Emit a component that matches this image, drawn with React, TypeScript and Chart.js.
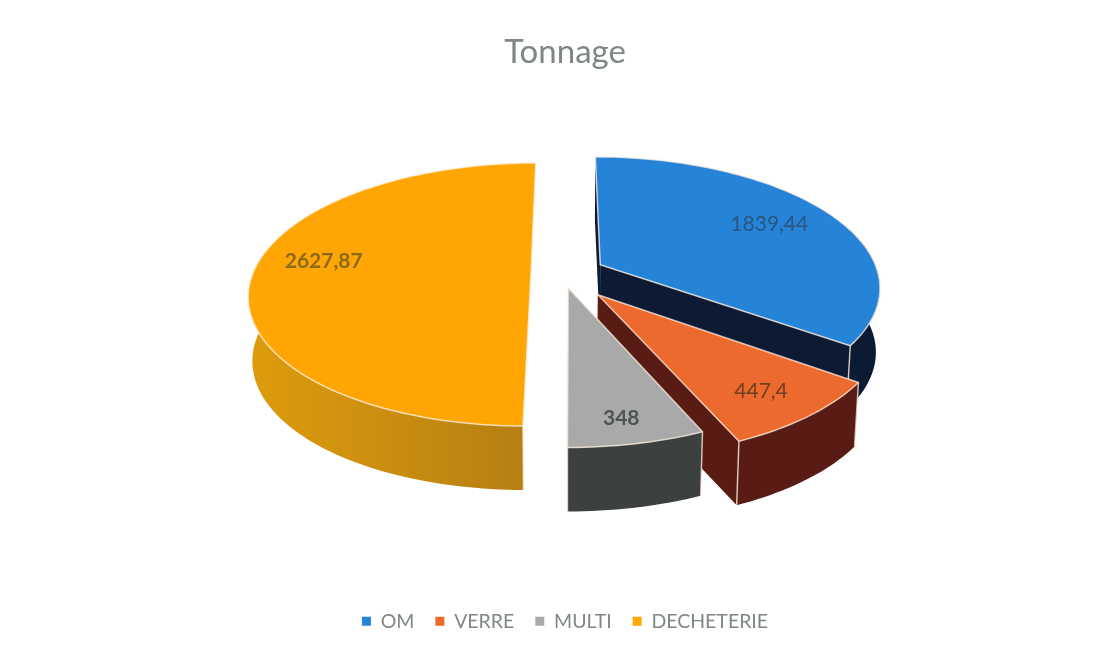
import React, { useEffect, useRef } from "react";
import { Chart, registerables } from "chart.js";

Chart.register(...registerables);

const TITLE = "Tonnage";
const CATEGORIES = ["OM", "VERRE", "MULTI", "DECHETERIE"];
const TONNAGE = [1839.44, 447.4, 348, 2627.87];
const LABELS = ["1839,44", "447,4", "348", "2627,87"];
const TOP_COLORS = ["#2583D8", "#EC6A2E", "#A9A9A9", "#FFA504"];
const SIDE_COLORS = ["#0D1A33", "#591C15", "#3C4140", "#C98D10"];
const LABEL_COLORS = ["#2A567F", "#6E3E22", "#4F5557", "#8A6A1C"];
const LABEL_BOLD = [false, false, true, true];
const EXPLODE_PX = [40, 56, 32, 34];
const EXPLODE_TURN = [0, 4, 6, 0];
const SHOW_CUT_FACES = [true, true, true, false];
const LABEL_RADIUS = [0.74, 0.81, 0.86, 0.765];
const LABEL_TURN = [-0.5, 1, 1, 7];
const DRAW_ORDER = [0, 3, 1, 2];

// perspective view of the unit disc
const VIEW = { cx: 565, cy: 273, rx: 278, ry: 128, k: 0.1635, depth: 64, shrink: 0.987 };
const RAD = Math.PI / 180;

type P = { x: number; y: number };
const project = (X: number, Y: number): P => {
  const s = 1 / (1 - VIEW.k * Y);
  return { x: VIEW.cx + X * VIEW.rx * s, y: VIEW.cy + Y * VIEW.ry * s };
};
const lower = (p: P): P => ({
  x: VIEW.cx + (p.x - VIEW.cx) * VIEW.shrink,
  y: p.y + VIEW.depth,
});

const poly = (ctx: CanvasRenderingContext2D, pts: P[]) => {
  ctx.beginPath();
  pts.forEach((p, i) => (i ? ctx.lineTo(p.x, p.y) : ctx.moveTo(p.x, p.y)));
  ctx.closePath();
};

const shift = (arc: any, i: number) => {
  const { startAngle, endAngle } = arc.getProps(["startAngle", "endAngle"], true);
  const mid = (startAngle + endAngle) / 2;
  const o = arc.options.offset / VIEW.rx;
  const dir = mid + EXPLODE_TURN[i] * RAD;
  return { startAngle, endAngle, mid, ox: Math.cos(dir) * o, oy: Math.sin(dir) * o };
};

const pie3d = {
  id: "pie3d",
  beforeDatasetsDraw(chart: any) {
    const ctx: CanvasRenderingContext2D = chart.ctx;
    const arcs = chart.getDatasetMeta(0).data;
    ctx.save();
    ctx.lineJoin = "round";
    DRAW_ORDER.forEach((i) => {
      const { startAngle, endAngle, ox, oy } = shift(arcs[i], i);
      const steps = Math.max(8, Math.ceil((endAngle - startAngle) * 40));
      const rim: P[] = [];
      const frontRim: P[] = [];
      for (let n = 0; n <= steps; n++) {
        const a = startAngle + ((endAngle - startAngle) * n) / steps;
        const p = project(ox + Math.cos(a), oy + Math.sin(a));
        rim.push(p);
        if (Math.sin(a) > -0.2) frontRim.push(p);
      }
      const apex = project(ox, oy);
      const side = SIDE_COLORS[i];
      const xs = rim.map((p) => p.x);
      const grad = ctx.createLinearGradient(Math.min(...xs), 0, Math.max(...xs), 0);
      if (i === 3) {
        grad.addColorStop(0, "#DE9C0C");
        grad.addColorStop(1, "#B57E14");
      } else {
        grad.addColorStop(0, side);
        grad.addColorStop(1, side);
      }
      // radial cut faces
      if (SHOW_CUT_FACES[i]) {
        ctx.fillStyle = side;
        [rim[0], rim[rim.length - 1]].forEach((e) => {
          poly(ctx, [apex, e, lower(e), lower(apex)]);
          ctx.fill();
        });
      }
      // curved wall, front part only
      ctx.fillStyle = grad;
      poly(ctx, [...frontRim, ...frontRim.map(lower).reverse()]);
      ctx.fill();
      // top face
      poly(ctx, [apex, ...rim]);
      ctx.fillStyle = TOP_COLORS[i];
      ctx.fill();
      ctx.strokeStyle = "rgba(255,240,225,0.75)";
      ctx.lineWidth = 1.5;
      ctx.stroke();
      // visible vertical edges
      [rim[0], rim[rim.length - 1]].forEach((e) => {
        if (e.y > VIEW.cy) {
          const b = lower(e);
          ctx.beginPath();
          ctx.moveTo(e.x, e.y);
          ctx.lineTo(b.x, b.y);
          ctx.stroke();
        }
      });
    });
    // data labels
    ctx.textAlign = "center";
    ctx.textBaseline = "middle";
    arcs.forEach((arc: any, i: number) => {
      const { mid, ox, oy } = shift(arc, i);
      const a = mid + LABEL_TURN[i] * RAD;
      const p = project(ox + Math.cos(a) * LABEL_RADIUS[i], oy + Math.sin(a) * LABEL_RADIUS[i]);
      ctx.font = `${LABEL_BOLD[i] ? "bold " : ""}21px Lato`;
      ctx.fillStyle = LABEL_COLORS[i];
      ctx.fillText(LABELS[i], p.x, p.y);
    });
    ctx.restore();
    return false;
  },
};

export default function App() {
  const ref = useRef<HTMLCanvasElement>(null);
  useEffect(() => {
    const chart = new Chart(ref.current!, {
      type: "pie",
      data: {
        labels: CATEGORIES,
        datasets: [
          {
            data: TONNAGE,
            backgroundColor: TOP_COLORS,
            borderWidth: 0,
            offset: EXPLODE_PX,
          },
        ],
      },
      options: {
        responsive: false,
        animation: false,
        layout: { padding: { top: 33, bottom: 10, left: 24 } },
        plugins: {
          title: {
            display: true,
            text: TITLE,
            color: "#7F8786",
            font: { family: "Lato", size: 33, weight: "normal" },
            padding: { top: 0, bottom: 20 },
          },
          legend: {
            position: "bottom",
            labels: {
              boxWidth: 9,
              boxHeight: 9,
              padding: 21,
              color: "#7F8786",
              font: { family: "Lato", size: 19.5 },
            },
          },
          tooltip: { enabled: false },
        },
      },
      plugins: [pie3d],
    } as any);
    return () => chart.destroy();
  }, []);
  return (
    <div style={{ position: "absolute", left: 0, top: 0, width: 1106, height: 651, background: "#fff" }}>
      <canvas ref={ref} width={1106} height={651} style={{ display: "block" }} />
    </div>
  );
}
